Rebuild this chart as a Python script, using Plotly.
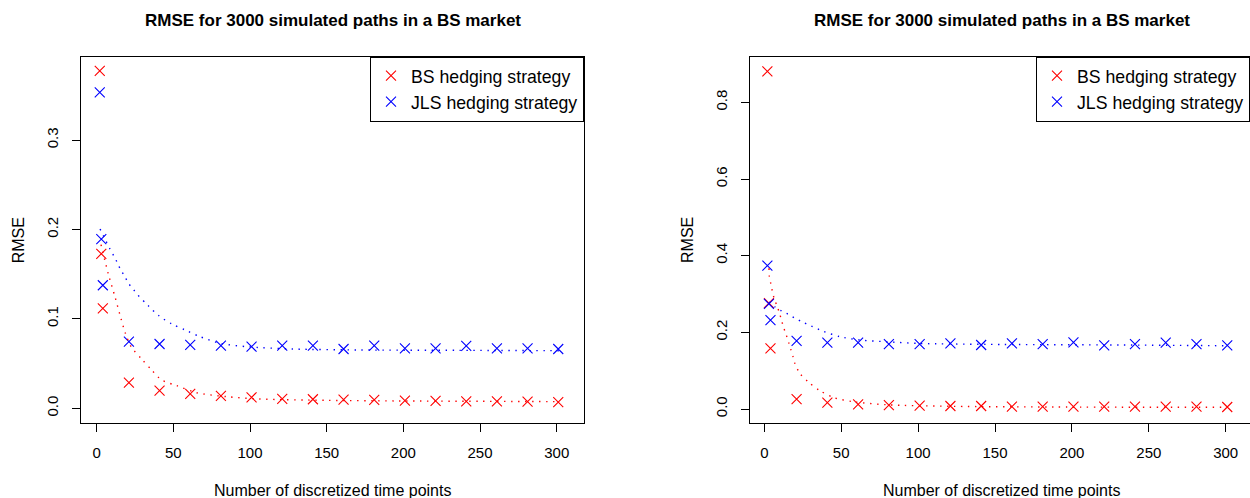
import plotly.graph_objects as go

# Number of discretized time points
n_points = [2, 3, 4, 21, 41, 61, 81, 101, 121, 141, 161, 181, 201, 221, 241, 261, 281, 301]

# Panel 1: RMSE values
bs_rmse_1 = [0.3774, 0.1728, 0.1117, 0.0286, 0.0197, 0.0160, 0.0138, 0.0123, 0.0104,
             0.0101, 0.0096, 0.0093, 0.0085, 0.0082, 0.0078, 0.0078, 0.0074, 0.0070]
jls_rmse_1 = [0.3533, 0.1893, 0.1376, 0.0745, 0.0719, 0.0708, 0.0700, 0.0689, 0.0700,
              0.0700, 0.0663, 0.0700, 0.0671, 0.0671, 0.0697, 0.0671, 0.0671, 0.0663]

# Panel 1: fitted curves
bs_fit_x_1 = [2.8, 7.6, 11.9, 15.8, 18.7, 22.4, 29.3, 35.8, 42.4, 52.2, 65.2, 84.8,
              106.5, 150, 196, 250, 302]
bs_fit_y_1 = [0.183, 0.150, 0.1248, 0.1006, 0.0839, 0.0689, 0.0551, 0.0428, 0.0316,
              0.0253, 0.0174, 0.0130, 0.0104, 0.0089, 0.0082, 0.0078, 0.0074]
jls_fit_x_1 = [2.2, 8.7, 11.3, 13.4, 15.6, 18.5, 20.6, 23.9, 26.7, 33.7, 40.6, 48.9,
               57.6, 67.4, 80.4, 97.8, 128.2, 171.7, 237, 303]
jls_fit_y_1 = [0.2005, 0.178, 0.170, 0.163, 0.155, 0.147, 0.140, 0.133, 0.127, 0.1146,
               0.1034, 0.0944, 0.0876, 0.0801, 0.0727, 0.0689, 0.0663, 0.0652, 0.0648, 0.0644]

# Panel 2: RMSE values
bs_rmse_2 = [0.881, 0.276, 0.158, 0.026, 0.0165, 0.0122, 0.0104, 0.0087, 0.0078,
             0.0078, 0.0060, 0.0060, 0.0060, 0.0060, 0.0060, 0.0060, 0.0060, 0.0052]
jls_rmse_2 = [0.3738, 0.274, 0.2321, 0.178, 0.173, 0.173, 0.1695, 0.1695, 0.171,
              0.167, 0.171, 0.1695, 0.174, 0.166, 0.1695, 0.173, 0.1695, 0.166]

# Panel 2: fitted curves
bs_fit_x_2 = [3.06, 3.25, 4.2, 5.2, 6.5, 8.3, 9.8, 11.3, 12.8, 14.3, 15.8, 17.2, 18.7,
              19.9, 23.1, 28.5, 36.1, 44.7, 57.7, 79.4, 122.9, 187.9, 300.9]
bs_fit_y_2 = [0.367, 0.347, 0.328, 0.308, 0.287, 0.2686, 0.251, 0.230, 0.210, 0.193,
              0.174, 0.156, 0.136, 0.119, 0.093, 0.071, 0.048, 0.0305, 0.019, 0.0112,
              0.007, 0.0052, 0.0044]
jls_fit_x_2 = [3.0, 7.0, 11.3, 15.6, 20.0, 24.3, 28.5, 38.3, 49.2, 62.2, 79.4, 101.2,
               144.6, 231.3, 300.9]
jls_fit_y_2 = [0.279, 0.266, 0.2556, 0.247, 0.2365, 0.228, 0.220, 0.203, 0.1886, 0.180,
               0.1755, 0.171, 0.1687, 0.167, 0.165]

x_ticks = [0, 50, 100, 150, 200, 250, 300]
y_ticks_1 = [0.0, 0.1, 0.2, 0.3]
y_ticks_2 = [0.0, 0.2, 0.4, 0.6, 0.8]

title_text = "<b>RMSE for 3000 simulated paths in a BS market</b>"
xlab = "Number of discretized time points"
ylab = "RMSE"

W, H = 1250, 498
FONT = "Liberation Sans, Arial, Helvetica, sans-serif"
RED = "#FF0000"
BLUE = "#0000FF"

fig = go.Figure()


def add_panel(xa, ya, legend, bs_y, jls_y, bsx, bsy, jlx, jly):
    fig.add_trace(go.Scatter(
        x=n_points, y=bs_y, mode="markers", name="BS hedging strategy",
        marker=dict(symbol="x-thin", size=10, line=dict(color=RED, width=1.1), color=RED),
        xaxis=xa, yaxis=ya, legend=legend, showlegend=True))
    fig.add_trace(go.Scatter(
        x=n_points, y=jls_y, mode="markers", name="JLS hedging strategy",
        marker=dict(symbol="x-thin", size=10, line=dict(color=BLUE, width=1.1), color=BLUE),
        xaxis=xa, yaxis=ya, legend=legend, showlegend=True))
    fig.add_trace(go.Scatter(
        x=bsx, y=bsy, mode="lines", line=dict(color=RED, width=1.4, dash="1.4px,5.6px",
                                             shape="spline", smoothing=0.8),
        xaxis=xa, yaxis=ya, showlegend=False, hoverinfo="skip"))
    fig.add_trace(go.Scatter(
        x=jlx, y=jly, mode="lines", line=dict(color=BLUE, width=1.4, dash="1.4px,5.6px",
                                             shape="spline", smoothing=0.8),
        xaxis=xa, yaxis=ya, showlegend=False, hoverinfo="skip"))


add_panel("x", "y", "legend", bs_rmse_1, jls_rmse_1, bs_fit_x_1, bs_fit_y_1, jls_fit_x_1, jls_fit_y_1)
add_panel("x2", "y2", "legend2", bs_rmse_2, jls_rmse_2, bs_fit_x_2, bs_fit_y_2, jls_fit_x_2, jls_fit_y_2)

# Plot boxes in pixels
L1, R1 = 81.3, 584.0
L2, R2 = 750.0, 1250.0
TOP, BOT = 56.7, 423.3
ydom = [(H - BOT) / H, (H - TOP) / H]

axis_common = dict(
    showgrid=False, zeroline=False, showline=True, linecolor="black",
    linewidth=1, ticks="outside", ticklen=8, tickwidth=1, tickcolor="black",
    tickfont=dict(family=FONT, size=15, color="black"), ticklabelstandoff=8,
)

legend_common = dict(
    y=(H - TOP) / H, xanchor="right", yanchor="top",
    bordercolor="black", borderwidth=1, bgcolor="white",
    font=dict(family=FONT, size=17.7, color="black"), itemclick=False,
)

fig.update_layout(
    width=W, height=H, margin=dict(l=0, r=0, t=0, b=0),
    paper_bgcolor="white", plot_bgcolor="white",
    xaxis=dict(domain=[L1 / W, R1 / W], range=[-10.04, 317.8], tickvals=x_ticks,
               anchor="y", mirror=True, **axis_common),
    yaxis=dict(domain=ydom, range=[-0.0168, 0.3932], tickvals=y_ticks_1,
               ticktext=[f"{v:.1f}" for v in y_ticks_1], tickangle=-90,
               anchor="x", mirror=True, **axis_common),
    xaxis2=dict(domain=[L2 / W, R2 / W], range=[-9.3, 315.8], tickvals=x_ticks,
                anchor="y2", mirror=True, **axis_common),
    # the right frame edge of this panel falls just past the page edge
    yaxis2=dict(domain=ydom, range=[-0.0373, 0.9191], tickvals=y_ticks_2,
                ticktext=[f"{v:.1f}" for v in y_ticks_2], tickangle=-90,
                anchor="x2", mirror=False, **axis_common),
    legend=dict(x=R1 / W, **legend_common),
    legend2=dict(x=R2 / W, **legend_common),
    showlegend=True,
)

# Titles and axis labels
for left, right in [(L1, R1), (L2, 1253.0)]:
    cx = (left + right) / 2 / W
    fig.add_annotation(text=title_text, x=cx, y=(H - 20) / H, xref="paper", yref="paper",
                       showarrow=False, xanchor="center", yanchor="middle",
                       font=dict(family=FONT, size=17, color="black"))
    fig.add_annotation(text=xlab, x=cx, y=(H - 490) / H, xref="paper", yref="paper",
                       showarrow=False, xanchor="center", yanchor="middle",
                       font=dict(family=FONT, size=16, color="black"))
    fig.add_annotation(text=ylab, x=(left - 63) / W, y=(H - 240) / H, xref="paper",
                       yref="paper", showarrow=False, textangle=-90,
                       xanchor="center", yanchor="middle",
                       font=dict(family=FONT, size=16, color="black"))

fig.write_html("out.html")
